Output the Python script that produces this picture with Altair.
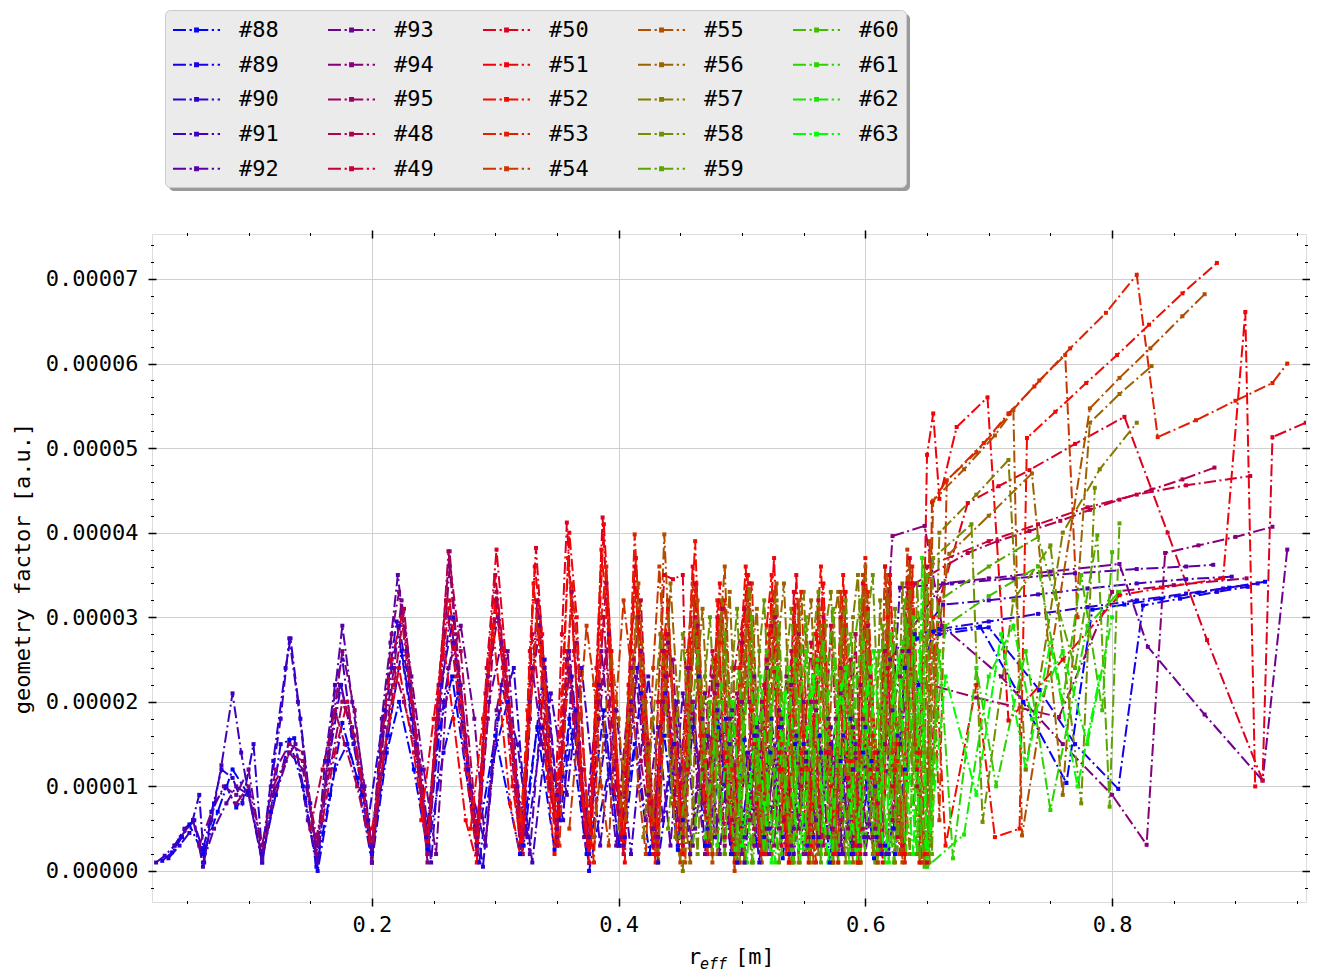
import pandas as pd
import altair as alt

# geometry factor per channel: (r_eff [m], value in 1e-5 a.u.)
S88 = [(0.040,0.30),(0.052,0.55),(0.063,0.20),(0.075,0.70),(0.087,1.20),(0.100,0.90),(0.111,0.15),(0.122,0.90),(0.133,1.55),(0.144,1.00),
       (0.155,0.05),(0.166,0.90),(0.176,1.75),(0.188,1.10),(0.200,0.10),(0.212,1.40),(0.222,2.00),(0.234,1.20),(0.245,0.25),(0.255,1.70),
       (0.265,2.30),(0.285,0.30),(0.300,1.60),(0.320,0.20),(0.334,1.70),(0.348,0.25),(0.360,1.80),(0.374,0.20),(0.388,1.90),(0.400,0.30),
       (0.413,1.50),(0.425,0.20),(0.437,1.60),(0.448,0.25),(0.460,2.00),(0.470,0.30),(0.481,1.70),(0.491,0.20),(0.502,1.55),(0.512,0.30),
       (0.523,1.40),(0.533,0.15),(0.543,1.50),(0.553,0.20),(0.563,1.60),(0.571,0.10),(0.580,1.30),(0.589,0.20),(0.598,1.40),(0.607,0.15),
       (0.616,0.30),(0.624,0.20),(0.632,1.20),(0.643,2.20),(0.655,2.83),(0.693,2.89),(0.728,2.00),(0.763,1.04),(0.784,3.09),(0.810,3.15),
       (0.840,3.22),(0.870,3.29),(0.895,3.35),(0.924,3.42)]
S89 = [(0.030,0.12),(0.038,0.22),(0.046,0.40),(0.055,0.60),(0.063,0.25),(0.072,0.80),(0.082,1.00),(0.090,0.75),(0.100,0.95),(0.111,0.10),
       (0.118,0.70),(0.126,1.50),(0.137,1.57),(0.146,0.86),(0.156,0.00),(0.170,1.20),(0.180,1.50),(0.192,0.90),(0.200,0.20),(0.213,1.60),
       (0.224,2.60),(0.236,1.50),(0.246,0.30),(0.258,1.40),(0.270,2.10),(0.287,0.10),(0.298,1.30),(0.310,2.00),(0.323,0.30),(0.340,2.50),
       (0.352,0.60),(0.365,1.90),(0.376,0.00),(0.392,1.20),(0.405,0.40),(0.418,2.10),(0.432,0.10),(0.445,1.50),(0.452,0.60),(0.465,2.30),
       (0.473,0.30),(0.487,1.80),(0.496,0.10),(0.510,1.60),(0.518,0.40),(0.530,1.70),(0.538,0.20),(0.550,1.50),(0.558,0.40),(0.570,1.40),
       (0.578,0.20),(0.588,1.80),(0.595,0.30),(0.605,1.30),(0.613,0.20),(0.623,0.50),(0.632,2.40),(0.642,2.75),(0.660,2.80),(0.700,2.88),
       (0.741,2.14),(0.770,1.50),(0.805,0.97),(0.825,3.14),(0.855,3.22),(0.885,3.30),(0.910,3.36)]
S90 = [(0.035,0.15),(0.044,0.30),(0.052,0.45),(0.060,0.90),(0.064,0.10),(0.070,0.70),(0.078,1.20),(0.087,1.10),(0.095,0.80),(0.104,1.50),
       (0.111,0.20),(0.120,1.30),(0.130,2.40),(0.134,2.75),(0.142,1.80),(0.150,0.80),(0.156,0.10),(0.165,1.30),(0.175,2.20),(0.185,1.50),
       (0.197,0.60),(0.210,1.90),(0.220,2.95),(0.232,1.80),(0.244,0.40),(0.256,2.20),(0.266,3.00),(0.278,1.20),(0.290,0.05),(0.302,1.80),
       (0.315,2.40),(0.326,0.40),(0.338,1.70),(0.355,0.60),(0.362,2.30),(0.376,0.20),(0.390,1.60),(0.400,0.30),(0.415,2.40),(0.428,0.50),
       (0.438,2.10),(0.448,0.30),(0.460,1.70),(0.472,0.50),(0.480,1.90),(0.492,0.20),(0.505,1.40),(0.514,0.10),(0.524,1.80),(0.533,0.40),
       (0.544,1.60),(0.553,0.30),(0.564,1.40),(0.573,0.50),(0.582,1.60),(0.590,0.20),(0.600,1.70),(0.609,0.40),(0.619,0.20),(0.628,1.50),
       (0.640,2.80),(0.660,2.86),(0.700,2.95),(0.740,3.04),(0.780,3.12),(0.820,3.20),(0.860,3.28),(0.890,3.34),(0.918,3.40)]
S91 = [(0.025,0.10),(0.032,0.18),(0.040,0.30),(0.048,0.50),(0.056,0.60),(0.063,0.05),(0.070,0.60),(0.078,1.25),(0.087,2.10),(0.094,1.40),
       (0.100,0.90),(0.111,0.10),(0.118,1.00),(0.126,1.80),(0.133,2.75),(0.140,2.00),(0.148,1.00),(0.155,0.10),(0.162,1.30),(0.170,2.20),
       (0.176,2.50),(0.184,1.60),(0.192,1.00),(0.200,0.30),(0.208,1.60),(0.216,2.40),(0.222,2.90),(0.230,2.20),(0.240,1.20),(0.248,0.10),
       (0.258,2.00),(0.266,2.70),(0.280,1.00),(0.292,0.30),(0.305,2.20),(0.318,1.50),(0.330,0.10),(0.345,2.10),(0.358,0.90),(0.370,2.40),
       (0.385,0.30),(0.398,1.90),(0.410,0.20),(0.424,2.30),(0.436,0.60),(0.447,2.00),(0.458,0.20),(0.468,1.80),(0.478,0.40),(0.490,1.50),
       (0.502,0.10),(0.512,1.60),(0.522,0.50),(0.532,1.70),(0.542,0.20),(0.552,1.30),(0.562,0.40),(0.572,1.50),(0.581,0.20),(0.590,1.20),
       (0.599,0.40),(0.608,1.00),(0.617,0.20),(0.626,1.60),(0.635,2.60),(0.663,3.15),(0.700,3.20),(0.740,3.27),(0.780,3.34),(0.820,3.40),
       (0.860,3.45),(0.897,3.48)]
S92 = [(0.045,0.40),(0.055,0.60),(0.063,0.10),(0.072,0.50),(0.082,0.80),(0.090,1.00),(0.100,0.90),(0.111,0.15),(0.120,0.90),(0.130,1.30),
       (0.138,1.50),(0.148,0.60),(0.156,0.10),(0.166,1.60),(0.176,2.90),(0.184,2.00),(0.194,1.00),(0.200,0.25),(0.208,1.80),(0.215,2.70),
       (0.221,3.50),(0.228,2.60),(0.236,1.50),(0.245,0.30),(0.255,1.90),(0.263,3.00),(0.272,2.20),(0.285,0.30),(0.295,2.00),(0.305,2.70),
       (0.318,1.00),(0.328,0.20),(0.340,2.40),(0.350,0.90),(0.360,2.60),(0.372,0.40),(0.384,2.20),(0.398,0.30),(0.410,2.00),(0.422,0.60),
       (0.432,1.70),(0.442,0.30),(0.452,2.10),(0.462,0.50),(0.472,1.60),(0.482,0.20),(0.492,1.90),(0.502,0.40),(0.512,1.70),(0.522,0.20),
       (0.532,1.80),(0.542,0.50),(0.552,1.40),(0.562,0.30),(0.572,1.70),(0.582,0.20),(0.592,1.50),(0.602,0.40),(0.612,0.30),(0.622,1.90),
       (0.628,3.35),(0.670,3.40),(0.720,3.46),(0.770,3.52),(0.820,3.57),(0.860,3.60),(0.882,3.62)]
S93 = [(0.060,0.30),(0.070,0.70),(0.080,1.00),(0.090,0.90),(0.100,1.20),(0.111,0.20),(0.122,0.90),(0.133,1.40),(0.144,1.20),(0.155,0.30),
       (0.165,1.40),(0.174,2.20),(0.184,1.70),(0.192,1.00),(0.200,0.10),(0.210,1.70),(0.218,2.40),(0.224,3.20),(0.232,2.30),(0.242,1.20),
       (0.252,0.20),(0.262,2.40),(0.272,2.90),(0.283,1.80),(0.292,0.30),(0.301,1.90),(0.310,2.60),(0.322,0.30),(0.330,2.40),(0.338,1.50),
       (0.350,0.50),(0.358,2.50),(0.366,1.40),(0.376,0.40),(0.386,2.60),(0.396,1.20),(0.404,0.30),(0.414,2.30),(0.424,0.90),(0.432,0.40),
       (0.440,2.70),(0.450,1.20),(0.460,0.30),(0.470,2.10),(0.480,0.60),(0.490,1.80),(0.500,0.20),(0.510,2.30),(0.520,0.50),(0.530,1.90),
       (0.540,0.30),(0.550,2.00),(0.560,0.60),(0.570,1.80),(0.580,0.30),(0.590,1.70),(0.600,0.20),(0.610,1.40),(0.620,2.50),(0.663,3.40),
       (0.700,3.46),(0.750,3.54),(0.806,3.63),(0.829,2.65),(0.875,1.85),(0.922,1.07),(0.942,3.80)]
S94 = [(0.090,0.80),(0.100,1.00),(0.111,0.30),(0.122,1.20),(0.133,1.50),(0.144,1.40),(0.155,0.20),(0.166,1.50),(0.176,2.60),(0.186,1.90),
       (0.194,0.90),(0.200,0.10),(0.208,1.50),(0.216,2.80),(0.222,3.30),(0.230,2.40),(0.238,1.30),(0.245,0.10),(0.254,1.80),(0.263,3.60),
       (0.270,2.40),(0.278,1.20),(0.285,0.40),(0.294,2.30),(0.302,3.00),(0.312,1.60),(0.320,0.30),(0.328,2.00),(0.336,2.90),(0.344,1.20),
       (0.350,0.60),(0.360,2.40),(0.368,1.50),(0.376,0.20),(0.384,1.80),(0.392,2.80),(0.402,0.40),(0.410,1.90),(0.418,2.60),(0.428,0.50),
       (0.438,2.30),(0.448,0.60),(0.456,2.40),(0.464,1.00),(0.470,0.20),(0.480,2.20),(0.490,0.40),(0.500,2.00),(0.510,0.30),(0.520,2.40),
       (0.530,0.50),(0.540,2.20),(0.550,0.20),(0.560,1.90),(0.570,0.40),(0.580,2.10),(0.590,0.30),(0.598,1.80),(0.608,0.50),(0.616,2.60),
       (0.622,3.96),(0.648,4.08),(0.662,2.90),(0.710,2.30),(0.760,1.50),(0.800,0.90),(0.828,0.31),(0.843,3.76),(0.870,3.85),(0.900,3.95),
       (0.930,4.07)]
S95 = [(0.120,1.00),(0.133,1.40),(0.144,1.30),(0.155,0.40),(0.166,1.20),(0.176,2.00),(0.186,1.60),(0.200,0.30),(0.210,1.40),(0.218,2.40),
       (0.226,2.00),(0.236,1.40),(0.245,0.20),(0.254,2.20),(0.263,3.78),(0.268,2.80),(0.276,1.60),(0.285,0.20),(0.294,1.80),(0.301,3.20),
       (0.310,2.20),(0.322,0.20),(0.330,2.30),(0.336,3.00),(0.344,1.60),(0.350,0.40),(0.358,2.20),(0.366,2.70),(0.376,0.40),(0.384,2.00),
       (0.390,2.60),(0.400,0.70),(0.410,2.40),(0.418,1.30),(0.428,0.30),(0.436,2.00),(0.444,2.50),(0.452,0.40),(0.460,2.00),(0.468,0.80),
       (0.476,2.30),(0.486,0.30),(0.496,2.10),(0.506,0.60),(0.516,2.00),(0.526,0.30),(0.536,2.30),(0.546,0.50),(0.556,2.00),(0.566,0.30),
       (0.576,1.80),(0.586,0.50),(0.596,2.20),(0.606,0.40),(0.616,1.50),(0.628,2.30),(0.690,2.05),(0.757,1.82),(0.800,3.30),(0.850,3.38),
       (0.909,3.46)]
S48 = [(0.150,0.50),(0.160,1.20),(0.170,1.90),(0.178,1.50),(0.188,1.00),(0.200,0.20),(0.210,1.40),(0.218,2.20),(0.226,3.10),(0.236,1.60),
       (0.245,0.40),(0.254,2.00),(0.262,3.78),(0.272,2.60),(0.285,0.50),(0.294,2.20),(0.301,3.30),(0.310,2.00),(0.322,0.30),(0.328,1.80),
       (0.334,3.20),(0.342,1.40),(0.350,0.40),(0.356,1.90),(0.362,3.30),(0.370,1.20),(0.376,0.20),(0.384,2.20),(0.390,3.40),(0.398,1.30),
       (0.404,0.30),(0.410,2.00),(0.416,3.00),(0.424,1.50),(0.430,0.40),(0.436,2.60),(0.442,1.80),(0.450,0.50),(0.458,2.40),(0.464,2.90),
       (0.470,0.70),(0.478,2.10),(0.484,3.10),(0.492,0.60),(0.500,2.70),(0.506,2.00),(0.514,0.30),(0.520,2.50),(0.527,3.00),(0.534,0.60),
       (0.540,2.20),(0.546,2.80),(0.554,0.40),(0.560,2.00),(0.566,3.00),(0.574,0.50),(0.580,2.40),(0.586,1.00),(0.592,2.80),(0.598,0.50),
       (0.604,2.30),(0.610,1.20),(0.616,2.60),(0.622,0.60),(0.630,2.60),(0.640,3.40),(0.683,3.76),(0.707,3.90),(0.733,4.02),(0.758,4.14),
       (0.782,4.27),(0.806,4.39),(0.832,4.51),(0.857,4.63),(0.883,4.77)]
S49 = [(0.160,0.60),(0.170,1.40),(0.180,2.00),(0.190,1.20),(0.200,0.20),(0.208,1.60),(0.216,2.50),(0.224,3.00),(0.232,2.00),(0.245,0.30),
       (0.252,1.80),(0.260,3.20),(0.268,2.30),(0.276,1.20),(0.285,0.20),(0.292,2.10),(0.300,3.50),(0.308,2.40),(0.316,1.00),(0.322,0.20),
       (0.330,2.80),(0.336,2.00),(0.344,1.00),(0.350,0.30),(0.358,2.60),(0.364,1.80),(0.374,0.30),(0.382,2.00),(0.388,3.00),(0.396,1.00),
       (0.404,0.20),(0.412,2.50),(0.418,3.20),(0.426,0.80),(0.432,0.30),(0.440,2.80),(0.446,1.50),(0.452,0.30),(0.462,3.00),(0.468,1.20),
       (0.476,2.60),(0.486,0.40),(0.494,2.40),(0.502,3.10),(0.510,0.50),(0.518,2.20),(0.524,2.90),(0.532,0.30),(0.540,2.60),(0.548,1.00),
       (0.556,2.70),(0.564,0.40),(0.572,2.90),(0.580,0.60),(0.588,2.50),(0.596,0.30),(0.602,2.90),(0.610,0.80),(0.618,2.40),(0.626,0.40),
       (0.634,3.40),(0.642,1.00),(0.650,3.60),(0.700,3.90),(0.740,4.10),(0.780,4.30),(0.820,4.45),(0.860,4.56),(0.912,4.67)]
S50 = [(0.200,0.50),(0.210,1.40),(0.222,2.40),(0.234,1.40),(0.245,0.20),(0.254,2.10),(0.263,3.20),(0.272,2.00),(0.285,0.30),(0.293,2.40),
       (0.301,3.80),(0.308,2.60),(0.316,1.20),(0.322,0.40),(0.328,2.60),(0.333,3.82),(0.340,2.30),(0.348,0.60),(0.354,2.80),(0.358,4.12),
       (0.364,2.60),(0.370,1.00),(0.376,0.10),(0.382,2.40),(0.387,4.18),(0.394,2.20),(0.402,0.30),(0.408,2.20),(0.413,3.60),(0.420,1.60),
       (0.428,0.20),(0.432,2.00),(0.437,3.50),(0.444,3.45),(0.452,3.50),(0.456,1.20),(0.462,3.40),(0.468,1.00),(0.474,0.30),(0.480,3.00),
       (0.486,1.20),(0.494,0.20),(0.500,2.80),(0.506,3.40),(0.512,0.80),(0.518,0.20),(0.524,3.20),(0.530,1.40),(0.536,0.30),(0.542,3.30),
       (0.548,1.20),(0.554,0.20),(0.562,3.20),(0.568,1.40),(0.574,0.20),(0.580,3.00),(0.586,1.10),(0.592,0.30),(0.598,3.40),(0.604,1.20),
       (0.610,0.20),(0.616,3.60),(0.622,1.00),(0.630,0.30),(0.636,3.70),(0.642,1.20),(0.650,0.10),(0.660,3.20),(0.683,4.35),(0.708,4.55),
       (0.733,4.74),(0.770,5.05),(0.810,5.37),(0.845,4.00),(0.877,2.73),(0.922,1.07),(0.930,5.13),(0.957,5.30)]
S51 = [(0.240,0.60),(0.250,1.80),(0.258,2.70),(0.266,1.80),(0.276,0.60),(0.285,0.10),(0.294,2.20),(0.300,3.20),(0.306,2.40),(0.314,1.00),
       (0.322,0.20),(0.328,2.40),(0.332,3.60),(0.338,2.80),(0.344,1.30),(0.350,0.30),(0.356,2.60),(0.360,4.00),(0.366,3.00),(0.372,1.20),
       (0.378,0.30),(0.384,2.80),(0.388,4.10),(0.394,2.60),(0.400,1.00),(0.405,0.10),(0.410,2.60),(0.414,3.70),(0.420,2.20),(0.426,0.80),
       (0.432,0.20),(0.438,2.80),(0.442,1.60),(0.448,0.30),(0.456,2.40),(0.460,3.60),(0.466,1.80),(0.472,0.20),(0.478,2.50),(0.482,3.40),
       (0.488,1.30),(0.494,0.10),(0.500,2.60),(0.504,3.50),(0.510,1.50),(0.516,0.20),(0.522,2.80),(0.526,3.70),(0.532,1.20),(0.538,0.10),
       (0.544,3.50),(0.550,1.60),(0.556,0.30),(0.562,2.70),(0.566,3.40),(0.572,1.00),(0.578,0.10),(0.584,3.30),(0.590,1.20),(0.596,0.20),
       (0.602,3.10),(0.608,1.40),(0.614,0.10),(0.620,3.50),(0.626,1.50),(0.632,0.20),(0.638,3.40),(0.644,0.10),(0.650,4.92),(0.655,5.41),
       (0.660,4.40),(0.674,5.25),(0.699,5.60),(0.716,1.78),(0.760,2.50),(0.806,3.26),(0.841,3.35),(0.890,3.46),(0.908,6.61),(0.916,1.00)]
S52 = [(0.280,0.50),(0.290,1.80),(0.298,2.90),(0.304,2.00),(0.312,0.80),(0.320,0.20),(0.326,1.90),(0.331,3.40),(0.336,2.60),(0.342,1.10),
       (0.348,0.20),(0.354,2.10),(0.359,3.70),(0.364,2.60),(0.370,1.00),(0.376,0.20),(0.382,2.20),(0.386,3.80),(0.392,2.70),(0.398,1.20),
       (0.404,0.30),(0.410,2.70),(0.414,3.30),(0.420,1.80),(0.426,0.60),(0.430,0.10),(0.436,2.40),(0.440,3.10),(0.446,1.50),(0.452,0.20),
       (0.458,2.70),(0.462,3.90),(0.468,1.60),(0.474,0.30),(0.480,3.20),(0.486,1.40),(0.492,0.20),(0.498,2.40),(0.503,3.60),(0.508,1.90),
       (0.514,0.30),(0.520,2.90),(0.524,3.50),(0.530,1.20),(0.536,0.20),(0.542,3.10),(0.548,1.40),(0.554,0.10),(0.560,2.80),(0.564,3.60),
       (0.570,1.40),(0.576,0.20),(0.582,3.50),(0.588,1.30),(0.594,0.10),(0.600,3.70),(0.606,1.60),(0.612,0.30),(0.618,3.00),(0.624,1.20),
       (0.630,0.20),(0.636,3.40),(0.642,1.40),(0.648,0.20),(0.655,3.00),(0.665,0.30),(0.690,2.20),(0.705,0.40),(0.725,0.50),(0.731,5.12),
       (0.754,5.43),(0.779,5.77),(0.804,6.10),(0.830,6.46),(0.857,6.83),(0.885,7.19)]
S53 = [(0.320,0.60),(0.328,1.80),(0.334,3.00),(0.340,2.20),(0.346,1.00),(0.352,0.30),(0.358,2.20),(0.362,3.40),(0.368,2.40),(0.374,0.80),
       (0.380,0.10),(0.386,3.00),(0.390,3.60),(0.396,2.00),(0.402,0.60),(0.408,2.10),(0.413,3.98),(0.418,2.60),(0.424,1.00),(0.430,0.20),
       (0.436,2.60),(0.440,3.20),(0.446,1.40),(0.452,0.20),(0.458,2.50),(0.463,3.40),(0.470,1.30),(0.476,0.20),(0.482,2.70),(0.486,3.20),
       (0.492,1.20),(0.498,0.10),(0.504,2.90),(0.508,3.40),(0.514,1.00),(0.520,0.20),(0.526,3.00),(0.532,1.50),(0.538,0.20),(0.544,2.60),
       (0.548,3.30),(0.554,1.20),(0.560,0.10),(0.566,3.10),(0.572,1.40),(0.578,0.20),(0.584,2.90),(0.590,1.30),(0.596,0.10),(0.602,3.30),
       (0.608,1.40),(0.614,0.20),(0.620,3.40),(0.626,1.30),(0.632,0.10),(0.638,3.60),(0.644,1.40),(0.650,0.20),(0.654,4.36),(0.665,4.60),
       (0.696,5.06),(0.716,5.41),(0.737,5.73),(0.766,6.18),(0.795,6.60),(0.820,7.05),(0.837,5.13),(0.868,5.33),(0.900,5.56),(0.930,5.77),
       (0.942,6.00)]
S54 = [(0.360,0.50),(0.368,1.80),(0.374,2.90),(0.380,2.20),(0.386,1.00),(0.392,0.30),(0.398,2.00),(0.404,3.20),(0.410,2.40),(0.416,1.00),
       (0.422,0.20),(0.428,2.40),(0.433,3.60),(0.438,2.20),(0.444,0.80),(0.450,0.10),(0.456,2.60),(0.460,3.40),(0.466,1.60),(0.472,0.20),
       (0.478,2.40),(0.483,3.10),(0.488,1.40),(0.494,0.00),(0.500,2.20),(0.505,3.50),(0.510,1.60),(0.516,0.20),(0.522,2.80),(0.526,3.30),
       (0.532,1.40),(0.538,0.10),(0.544,2.90),(0.550,1.30),(0.556,0.20),(0.562,3.10),(0.568,1.40),(0.574,0.10),(0.580,3.30),(0.586,1.30),
       (0.592,0.20),(0.598,3.50),(0.604,1.50),(0.610,0.10),(0.616,3.60),(0.622,1.40),(0.628,0.20),(0.634,3.80),(0.640,1.50),(0.646,0.10),
       (0.652,3.90),(0.660,0.60),(0.666,4.62),(0.690,4.95),(0.717,5.41),(0.741,5.80),(0.762,6.10),(0.772,3.00)]
S55 = [(0.380,0.40),(0.388,1.60),(0.394,2.60),(0.400,1.80),(0.406,0.60),(0.412,2.20),(0.416,3.40),(0.422,2.00),(0.428,0.60),(0.434,2.80),
       (0.437,3.98),(0.442,2.40),(0.448,0.80),(0.454,0.10),(0.460,2.60),(0.464,3.20),(0.470,1.40),(0.476,0.10),(0.482,2.80),(0.486,3.60),
       (0.492,1.20),(0.498,0.20),(0.504,3.00),(0.510,1.30),(0.516,0.10),(0.522,2.70),(0.528,3.40),(0.534,1.20),(0.540,0.20),(0.546,3.20),
       (0.552,1.20),(0.558,0.10),(0.564,2.90),(0.570,1.50),(0.576,0.20),(0.582,3.10),(0.588,1.20),(0.594,0.10),(0.600,3.30),(0.606,1.40),
       (0.612,0.20),(0.618,3.50),(0.624,1.20),(0.630,0.10),(0.636,3.60),(0.642,1.30),(0.648,0.10),(0.655,4.38),(0.680,4.75),(0.705,5.15),
       (0.720,5.45),(0.727,0.42),(0.782,5.47),(0.806,5.83),(0.831,6.18),(0.857,6.56),(0.875,6.82)]
S56 = [(0.400,0.50),(0.408,1.80),(0.414,3.00),(0.420,2.00),(0.426,0.60),(0.432,0.10),(0.438,2.20),(0.442,3.40),(0.448,2.00),(0.454,0.60),
       (0.458,0.10),(0.464,2.40),(0.468,3.10),(0.474,1.40),(0.480,0.20),(0.486,2.60),(0.490,3.30),(0.496,1.30),(0.502,0.10),(0.508,2.50),
       (0.512,3.10),(0.518,1.20),(0.524,0.20),(0.530,2.80),(0.534,3.40),(0.540,1.40),(0.546,0.10),(0.552,2.70),(0.556,3.20),(0.562,1.30),
       (0.568,0.20),(0.574,2.90),(0.578,3.30),(0.584,1.20),(0.590,0.10),(0.596,3.00),(0.600,3.60),(0.606,1.30),(0.612,0.20),(0.618,3.20),
       (0.624,1.50),(0.630,0.30),(0.636,3.30),(0.642,1.20),(0.648,0.10),(0.656,2.50),(0.668,3.75),(0.700,4.20),(0.735,4.70),(0.760,0.90),
       (0.782,5.30),(0.806,5.64),(0.832,5.97)]
S57 = [(0.420,0.40),(0.428,1.80),(0.434,2.80),(0.440,1.60),(0.446,0.40),(0.452,0.00),(0.458,2.20),(0.462,3.00),(0.468,1.60),(0.474,0.40),
       (0.480,2.40),(0.484,3.20),(0.490,1.30),(0.496,0.10),(0.502,2.60),(0.506,3.40),(0.512,1.40),(0.518,0.20),(0.524,2.50),(0.528,3.20),
       (0.534,1.20),(0.540,0.10),(0.546,2.80),(0.550,3.30),(0.556,1.40),(0.562,0.20),(0.568,2.90),(0.572,3.30),(0.578,1.30),(0.584,0.10),
       (0.590,3.00),(0.594,3.50),(0.600,1.40),(0.606,0.20),(0.612,3.20),(0.618,1.40),(0.624,0.10),(0.630,3.40),(0.636,1.60),(0.642,0.20),
       (0.648,3.60),(0.653,0.30),(0.660,4.00),(0.690,4.45),(0.716,4.86),(0.730,1.20),(0.760,4.00),(0.790,4.75),(0.820,5.30)]
S58 = [(0.440,0.50),(0.448,2.00),(0.452,2.80),(0.458,1.40),(0.464,0.20),(0.470,2.30),(0.474,3.00),(0.480,1.40),(0.486,0.20),(0.492,2.40),
       (0.496,3.10),(0.502,1.20),(0.508,0.10),(0.514,2.60),(0.518,3.20),(0.524,1.30),(0.530,0.10),(0.536,2.50),(0.540,3.10),(0.546,1.20),
       (0.552,0.20),(0.558,2.80),(0.562,3.30),(0.568,1.30),(0.574,0.10),(0.580,2.70),(0.584,3.20),(0.590,1.20),(0.596,0.10),(0.602,3.00),
       (0.606,3.50),(0.612,1.30),(0.618,0.20),(0.624,3.10),(0.630,1.50),(0.636,0.20),(0.642,3.40),(0.648,1.40),(0.652,0.10),(0.655,3.70),
       (0.686,4.10),(0.695,0.58),(0.720,3.20),(0.750,3.85),(0.775,0.80),(0.786,4.53)]
S59 = [(0.450,0.40),(0.458,1.60),(0.464,2.60),(0.470,1.40),(0.476,0.20),(0.482,2.00),(0.486,2.80),(0.492,1.30),(0.498,0.10),(0.504,2.20),
       (0.508,3.00),(0.514,1.20),(0.520,0.20),(0.526,2.40),(0.530,2.90),(0.536,1.10),(0.542,0.10),(0.548,2.60),(0.552,3.00),(0.558,1.30),
       (0.564,0.10),(0.570,2.50),(0.574,3.10),(0.580,1.20),(0.586,0.20),(0.592,2.80),(0.596,3.20),(0.602,1.30),(0.608,0.10),(0.614,2.90),
       (0.620,1.40),(0.626,0.20),(0.632,3.20),(0.638,1.40),(0.644,0.10),(0.650,3.50),(0.654,0.20),(0.660,3.20),(0.700,3.60),(0.740,3.95),
       (0.770,2.40),(0.788,3.97),(0.798,0.76),(0.806,4.11)]
S60 = [(0.460,0.30),(0.468,1.20),(0.474,2.00),(0.480,1.00),(0.486,0.20),(0.492,1.60),(0.497,2.40),(0.503,1.10),(0.509,0.10),(0.515,1.80),
       (0.520,2.60),(0.526,1.20),(0.532,0.20),(0.538,1.90),(0.543,2.50),(0.549,1.00),(0.555,0.10),(0.561,2.00),(0.566,2.70),(0.572,1.10),
       (0.578,0.10),(0.584,2.20),(0.588,2.80),(0.594,1.20),(0.600,0.20),(0.606,2.10),(0.611,2.60),(0.617,1.00),(0.623,0.10),(0.629,2.40),
       (0.634,2.90),(0.640,1.20),(0.648,0.05),(0.665,2.90),(0.700,3.25),(0.740,3.60),(0.760,2.00),(0.775,3.50),(0.792,1.90),(0.800,3.77)]
S61 = [(0.470,0.40),(0.477,1.40),(0.483,2.20),(0.489,1.00),(0.495,0.10),(0.501,1.70),(0.506,2.50),(0.512,1.20),(0.518,0.20),(0.524,1.90),
       (0.529,2.40),(0.535,1.00),(0.541,0.10),(0.547,2.00),(0.552,2.60),(0.558,1.10),(0.564,0.20),(0.570,2.10),(0.575,2.50),(0.581,1.00),
       (0.587,0.10),(0.593,2.30),(0.598,2.70),(0.604,1.20),(0.610,0.10),(0.616,2.20),(0.621,2.80),(0.627,1.30),(0.633,0.20),(0.639,3.00),
       (0.644,1.00),(0.650,0.05),(0.660,2.60),(0.671,0.15),(0.690,2.40),(0.706,1.00),(0.730,2.60),(0.750,0.72),(0.780,2.90),(0.806,3.30)]
S62 = [(0.480,0.30),(0.486,1.20),(0.492,2.00),(0.498,0.90),(0.504,0.10),(0.510,1.60),(0.515,2.30),(0.521,1.00),(0.527,0.10),(0.533,1.80),
       (0.538,2.40),(0.544,1.00),(0.550,0.20),(0.556,1.90),(0.561,2.50),(0.567,1.10),(0.573,0.10),(0.579,2.00),(0.584,2.40),(0.590,1.00),
       (0.596,0.10),(0.602,2.10),(0.607,2.60),(0.613,1.20),(0.619,0.10),(0.625,2.30),(0.630,2.70),(0.636,1.10),(0.642,0.20),(0.646,3.70),
       (0.650,0.05),(0.680,0.43),(0.700,2.30),(0.720,2.90),(0.735,1.80),(0.760,2.60),(0.780,1.50),(0.800,3.00)]
S63 = [(0.500,0.30),(0.506,1.00),(0.512,1.80),(0.518,0.80),(0.524,0.10),(0.530,1.50),(0.535,2.10),(0.541,0.90),(0.547,0.10),(0.553,1.70),
       (0.558,2.30),(0.564,1.00),(0.570,0.10),(0.576,1.80),(0.581,2.20),(0.587,0.90),(0.593,0.10),(0.599,1.90),(0.604,2.40),(0.610,1.00),
       (0.616,0.10),(0.622,2.00),(0.627,2.50),(0.633,1.10),(0.639,0.20),(0.644,2.60),(0.650,0.05),(0.665,2.30),(0.690,0.90),(0.710,2.80),
       (0.730,1.20),(0.750,2.70),(0.772,1.00),(0.790,2.30)]

# plot order; the legend fills its five columns top to bottom in this order
SERIES = ["#88", "#89", "#90", "#91", "#92", "#93", "#94", "#95", "#48", "#49", "#50", "#51",
          "#52", "#53", "#54", "#55", "#56", "#57", "#58", "#59", "#60", "#61", "#62", "#63"]
POINTS = [S88, S89, S90, S91, S92, S93, S94, S95, S48, S49, S50, S51,
          S52, S53, S54, S55, S56, S57, S58, S59, S60, S61, S62, S63]
COLORS = ["#0000ff", "#1600e9", "#2c00d3", "#4300bc", "#5900a6", "#6f0090", "#85007a", "#9b0064",
          "#b1004e", "#c80037", "#de0021", "#f4000b", "#f40b00", "#de2100", "#c83700", "#b14e00",
          "#9b6400", "#857a00", "#6f9000", "#59a600", "#43bc00", "#2cd300", "#16e900", "#00ff00"]

X_DOMAIN = [0.0217, 0.9572]
Y_DOMAIN = [-0.367e-5, 7.532e-5]
X_MAJOR = [0.2, 0.4, 0.6, 0.8]
X_MINOR = [0.05, 0.1, 0.15, 0.25, 0.3, 0.35, 0.45, 0.5, 0.55, 0.65, 0.7, 0.75, 0.85, 0.9, 0.95]
Y_MAJOR_E5 = [0, 1, 2, 3, 4, 5, 6, 7]
Y_MINOR_E5 = [-0.2, 0.2, 0.4, 0.6, 0.8, 1.2, 1.4, 1.6, 1.8, 2.2, 2.4, 2.6, 2.8, 3.2, 3.4, 3.6, 3.8,
              4.2, 4.4, 4.6, 4.8, 5.2, 5.4, 5.6, 5.8, 6.2, 6.4, 6.6, 6.8, 7.2, 7.4]

FONT = "DejaVu Sans Mono"
W, H = 1154, 668

rows = []
for name, pts in zip(SERIES, POINTS):
    for i, (r, g) in enumerate(pts):
        rows.append({"series": name, "i": i, "r": r, "g": g * 1e-5})
data = pd.DataFrame(rows)

y_major = [v * 1e-5 for v in Y_MAJOR_E5]
y_minor = [v * 1e-5 for v in Y_MINOR_E5]
frame = pd.DataFrame({"r": X_DOMAIN, "g": Y_DOMAIN})

xs = alt.Scale(domain=X_DOMAIN, nice=False, zero=False)
ys = alt.Scale(domain=Y_DOMAIN, nice=False, zero=False)

# dash-dot handle (47 px long) with a small square marker, drawn right of the symbol anchor
handle = ("M-1,0H0.08M0.38,0H0.57M0.86,0H1.94M2.23,0H2.42M2.72,0H2.92"
          "M0.84,-0.12H1.08V0.12H0.84Z")

lines = alt.Chart(data).mark_line(
    strokeWidth=2, strokeDash=[12, 3.5, 2, 3.5], clip=True,
    point=alt.OverlayMarkDef(shape="square", size=16, filled=True, clip=True)
).encode(
    x=alt.X("r:Q", scale=xs, axis=alt.Axis(grid=True, ticks=False, labels=False, domain=False,
                                            title=None, values=X_MAJOR, gridColor="#d0d0d0")),
    y=alt.Y("g:Q", scale=ys, axis=alt.Axis(grid=True, ticks=False, labels=False, domain=False,
                                            title=None, values=y_major, gridColor="#d0d0d0")),
    color=alt.Color("series:N", scale=alt.Scale(domain=SERIES, range=COLORS),
                    legend=alt.Legend(title=None, orient="none", legendX=13, legendY=-224,
                                      columns=5, symbolType=handle, symbolSize=576,
                                      symbolStrokeWidth=2, symbolDash=[1, 0],
                                      labelFont=FONT, labelFontSize=22, labelColor="black",
                                      labelOffset=41, columnPadding=45, rowPadding=10.7,
                                      padding=7, fillColor="#ebebeb", strokeColor="#cccccc",
                                      cornerRadius=5, zindex=1)),
    order="i:Q",
)


def tick_layer(x_axis, y_axis):
    return alt.Chart(frame).mark_point(opacity=0).encode(
        x=alt.X("r:Q", scale=xs, axis=x_axis),
        y=alt.Y("g:Q", scale=ys, axis=y_axis),
    )


common = dict(grid=False, domain=False, tickColor="black", zindex=1)
bottom_major = alt.Axis(orient="bottom", offset=-4, tickSize=8, tickWidth=1.5, values=X_MAJOR,
                        format=".1f", labelFont=FONT, labelFontSize=22, labelColor="black",
                        labelPadding=8, title=None, **common)
left_major = alt.Axis(orient="left", offset=-4, tickSize=8, tickWidth=1.5, values=y_major,
                      format=".5f", labelFont=FONT, labelFontSize=22, labelColor="black",
                      labelPadding=10, title="geometry factor [a.u.]", titleFont=FONT,
                      titleFontSize=22, titleFontWeight="normal", titleColor="black",
                      titleX=-127, titleY=334, titleAngle=270, titleAlign="center",
                      titleBaseline="alphabetic", **common)
bottom_minor = alt.Axis(orient="bottom", offset=-1.5, tickSize=3, tickWidth=1, values=X_MINOR,
                        labels=False, title=None, **common)
left_minor = alt.Axis(orient="left", offset=-1.5, tickSize=3, tickWidth=1, values=y_minor,
                      labels=False, title=None, **common)
top_major = alt.Axis(orient="top", offset=-4, tickSize=8, tickWidth=1.5, values=X_MAJOR,
                     labels=False, title=None, **common)
right_major = alt.Axis(orient="right", offset=-4, tickSize=8, tickWidth=1.5, values=y_major,
                       labels=False, title=None, **common)
top_minor = alt.Axis(orient="top", offset=-1.5, tickSize=3, tickWidth=1, values=X_MINOR,
                     labels=False, title=None, **common)
right_minor = alt.Axis(orient="right", offset=-1.5, tickSize=3, tickWidth=1, values=y_minor,
                       labels=False, title=None, **common)

note = pd.DataFrame({"a": [0]})
shadow = alt.Chart(note).mark_rect(color="#9a9a9a", cornerRadius=5).encode(
    x=alt.value(17), x2=alt.value(758), y=alt.value(-220), y2=alt.value(-43))
t_r = alt.Chart(note).mark_text(font=FONT, fontSize=22, align="left", baseline="alphabetic",
                                color="black").encode(x=alt.value(536), y=alt.value(730),
                                                      text=alt.value("r"))
t_eff = alt.Chart(note).mark_text(font=FONT, fontSize=15, fontStyle="italic", align="left",
                                  baseline="alphabetic", color="black").encode(
    x=alt.value(548), y=alt.value(735), text=alt.value("eff"))
t_m = alt.Chart(note).mark_text(font=FONT, fontSize=22, align="left", baseline="alphabetic",
                                color="black").encode(x=alt.value(583), y=alt.value(730),
                                                      text=alt.value("[m]"))

chart = alt.layer(
    shadow,
    lines,
    tick_layer(bottom_major, left_major),
    tick_layer(bottom_minor, left_minor),
    tick_layer(top_major, right_major),
    tick_layer(top_minor, right_minor),
    t_r, t_eff, t_m,
).resolve_axis(x="independent", y="independent").properties(
    width=W, height=H,
    padding={"left": 144, "top": 226, "right": 4, "bottom": 76},
    autosize=alt.AutoSizeParams(type="none"),
).configure_view(stroke="black", strokeWidth=2).configure(background="white")

chart.save("out.html", embed_options={"renderer": "svg", "actions": False})
